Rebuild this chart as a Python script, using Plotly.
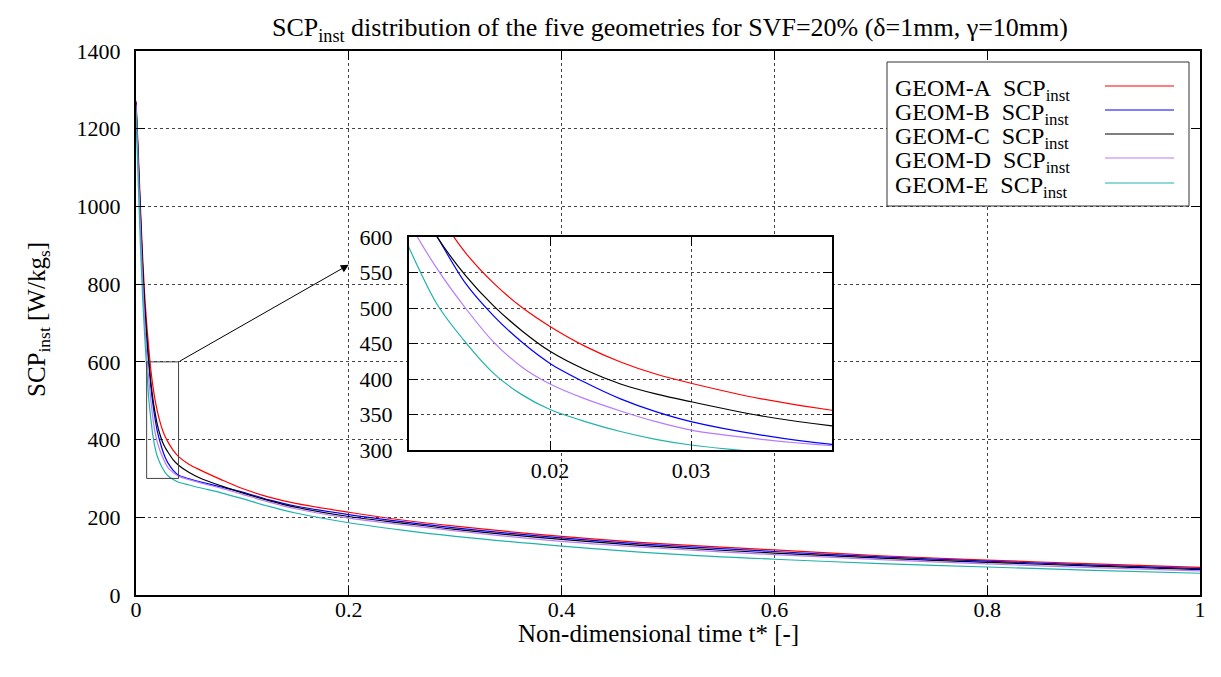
import plotly.graph_objects as go

# ---------------- data ----------------
t_star = [0, 0.002, 0.004, 0.006, 0.008, 0.010, 0.012, 0.014, 0.016, 0.018, 0.020,
          0.0225, 0.025, 0.0275, 0.030, 0.035, 0.040, 0.050, 0.060, 0.080, 0.100,
          0.125, 0.150, 0.200, 0.250, 0.300, 0.400, 0.500, 0.600, 0.700, 0.800,
          0.900, 1.000]

geom_a = [1272, 1150, 1010, 885, 780, 700, 635, 578, 535, 501, 474,
          446, 424, 407, 394, 372, 356, 336, 322, 297, 274,
          252, 236, 213, 193, 177, 151, 131, 116, 101, 90,
          80, 71]
geom_b = [1268, 1125, 985, 855, 745, 665, 600, 535, 489, 452, 422,
          395, 372, 354, 340, 321, 308, 299, 291, 278, 265,
          245, 229, 207, 189, 173, 147, 127, 112, 98, 87,
          77, 68]
geom_c = [1265, 1130, 990, 860, 755, 670, 600, 546, 503, 468, 439,
          413, 393, 379, 368, 348, 334, 315, 301, 281, 263,
          243, 226, 202, 185, 169, 143, 123, 108, 95, 84,
          74.5, 65.5]
geom_d = [1262, 1110, 960, 825, 715, 622, 555, 500, 452, 417, 393,
          372, 355, 340, 328, 315, 306, 297, 289, 275, 259,
          239, 222, 198, 181, 165, 138, 119, 104, 91, 80,
          70.5, 62]
geom_e = [1245, 1070, 910, 780, 675, 585, 505, 452, 408, 378, 357,
          340, 326, 315, 307, 297, 290, 283, 276, 263, 248,
          228, 211, 186, 167, 151, 126, 106, 92, 81, 72,
          63.5, 56]

series_names = ["GEOM-A", "GEOM-B", "GEOM-C", "GEOM-D", "GEOM-E"]
series_vals = [geom_a, geom_b, geom_c, geom_d, geom_e]
series_colors = ["#ff0000", "#0000ff", "#000000", "#b57bff", "#20b2aa"]

main_yticks = [0, 200, 400, 600, 800, 1000, 1200, 1400]
main_xticks = [0, 0.2, 0.4, 0.6, 0.8, 1.0]
main_xticktext = ["0", "0.2", "0.4", "0.6", "0.8", "1"]
inset_xticks = [0.02, 0.03]
inset_xticktext = ["0.02", "0.03"]
inset_yticks = [300, 350, 400, 450, 500, 550, 600]

zoom_x = [0.01, 0.04]
zoom_y = [300, 600]

# ---------------- layout geometry (pixels) ----------------
W, H = 1221, 677
L, R, T, B = 136, 1200, 51, 595


def px(x):
    return (x - L) / (R - L)


def py(y):
    return (B - y) / (B - T)


FONT = "Liberation Serif, Times New Roman, serif"
FS = 24
TFS = 22

fig = go.Figure()

line_style = dict(width=1.2, shape="spline", smoothing=0.9)

# main curves
for name, vals, col in zip(series_names, series_vals, series_colors):
    fig.add_trace(go.Scatter(x=t_star, y=vals, mode="lines", name=name,
                             line=dict(color=col, **line_style),
                             xaxis="x", yaxis="y", showlegend=False))

# white cover for the inset (hides main grid under inset)
fig.add_trace(go.Scatter(x=[0, 1, 1, 0, 0], y=[0, 0, 1, 1, 0], mode="lines",
                         fill="toself", fillcolor="white",
                         line=dict(width=0, color="white"),
                         xaxis="x2", yaxis="y2", showlegend=False,
                         hoverinfo="skip"))

# inset curves
for name, vals, col in zip(series_names, series_vals, series_colors):
    fig.add_trace(go.Scatter(x=t_star, y=vals, mode="lines", name=name,
                             line=dict(color=col, **line_style),
                             xaxis="x3", yaxis="y3", showlegend=False))

# empty trace that carries the free x-axis used for the main tick labels
fig.add_trace(go.Scatter(x=[], y=[], mode="lines", xaxis="x4", yaxis="y",
                         showlegend=False, hoverinfo="skip"))

inset_dom_x = [px(409), px(832)]
inset_dom_y = [py(450), py(237)]

grid = dict(showgrid=True, gridcolor="#444", griddash="dot", gridwidth=1)
axcommon = dict(showline=True, linecolor="black", linewidth=2, mirror="ticks",
                ticks="inside", ticklen=9, tickwidth=1, tickcolor="black",
                zeroline=False,
                tickfont=dict(family=FONT, size=TFS, color="black"))

fig.update_layout(
    width=W, height=H,
    margin=dict(l=L, r=W - R, t=T, b=H - B),
    paper_bgcolor="white", plot_bgcolor="white",
    font=dict(family=FONT, size=FS, color="black"),
    showlegend=False,
    xaxis=dict(domain=[0, 1], range=[0, 1], tickvals=main_xticks,
               ticktext=main_xticktext, showticklabels=False,
               anchor="y", **grid, **axcommon),
    xaxis4=dict(overlaying="x", anchor="free", position=py(594), side="bottom",
                range=[0, 1], tickvals=main_xticks, ticktext=main_xticktext,
                showline=False, ticks="", showgrid=False, zeroline=False,
                tickfont=dict(family=FONT, size=TFS, color="black")),
    yaxis=dict(domain=[0, 1], range=[0, 1400], tickvals=main_yticks,
               anchor="x", ticklabelstandoff=9, **grid, **axcommon),
    xaxis2=dict(domain=inset_dom_x, range=[0, 1], visible=False, anchor="y2",
                fixedrange=True),
    yaxis2=dict(domain=inset_dom_y, range=[0, 1], visible=False, anchor="x2",
                fixedrange=True),
    xaxis3=dict(domain=inset_dom_x, range=zoom_x, tickvals=inset_xticks,
                ticktext=inset_xticktext, anchor="y3",
                **grid, **axcommon),
    yaxis3=dict(domain=inset_dom_y, range=zoom_y, tickvals=inset_yticks,
                anchor="x3", ticklabelstandoff=10, **grid, **axcommon),
    title=dict(text="SCP<sub>inst</sub> distribution of the five geometries for SVF=20% (δ=1mm, γ=10mm)",
               x=px(670), xref="paper", xanchor="center",
               y=1 - 27 / H, yref="container", yanchor="middle",
               font=dict(family=FONT, size=26, color="black")),
)

shapes = []
# zoom rectangle on main plot
shapes.append(dict(type="rect", xref="x", yref="y", x0=zoom_x[0], x1=zoom_x[1],
                   y0=zoom_y[0], y1=zoom_y[1], line=dict(color="#444", width=1),
                   layer="above"))
# legend box
shapes.append(dict(type="rect", xref="paper", yref="paper",
                   x0=px(887), x1=px(1189), y0=py(206), y1=py(62),
                   fillcolor="white", line=dict(color="#333", width=1),
                   layer="above"))
annotations = []
row_y = [86, 110, 134, 158, 183]
for i, (name, col) in enumerate(zip(series_names, series_colors)):
    shapes.append(dict(type="line", xref="paper", yref="paper",
                       x0=px(1105), x1=px(1174), y0=py(row_y[i]), y1=py(row_y[i]),
                       line=dict(color=col, width=1.2), layer="above"))
    annotations.append(dict(text=name + "\u00a0 SCP<sub>inst</sub>",
                            xref="paper", yref="paper", x=px(893), y=py(row_y[i] + 4),
                            xanchor="left", yanchor="middle", showarrow=False,
                            font=dict(family=FONT, size=FS, color="black")))

# arrow from zoom box to inset
annotations.append(dict(x=0.2, y=850, ax=zoom_x[1], ay=zoom_y[1], xref="x", yref="y",
                        axref="x", ayref="y", text="", showarrow=True,
                        arrowhead=2, arrowsize=1.6, arrowwidth=1, arrowcolor="black"))

# axis titles
annotations.append(dict(text="Non-dimensional time t* [-]", xref="paper", yref="paper",
                        x=px(658), y=py(633), xanchor="center", yanchor="middle",
                        showarrow=False, font=dict(family=FONT, size=25, color="black")))
annotations.append(dict(text="SCP<sub>inst</sub> [W/kg<sub>s</sub>]", xref="paper", yref="paper",
                        x=px(38), y=py(320), xanchor="center", yanchor="middle",
                        textangle=-90, showarrow=False,
                        font=dict(family=FONT, size=25, color="black")))

fig.update_layout(shapes=shapes, annotations=annotations)

fig.write_html("out.html")
